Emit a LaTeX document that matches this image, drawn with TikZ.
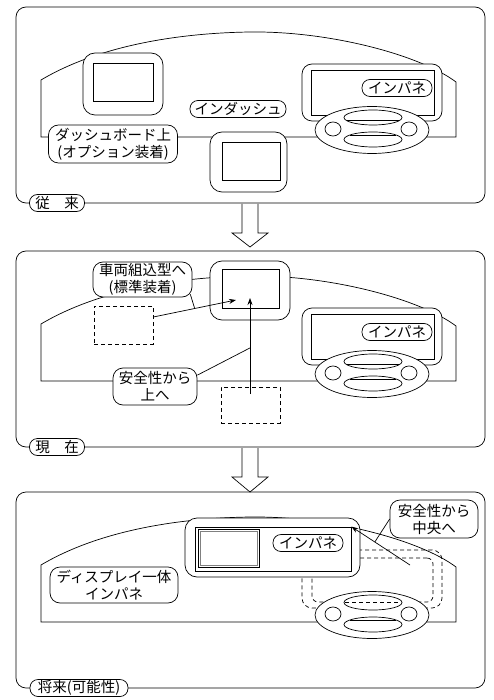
\documentclass[tikz,border=0pt]{standalone}
\usepackage{fontspec}
\setmainfont{Noto Sans CJK JP}
\usetikzlibrary{arrows.meta,calc,shapes.geometric}

\begin{document}
\begin{tikzpicture}[x=1pt,y=-1pt,line width=0.7pt,
        every node/.style={inner sep=0pt,font=\fontsize{14.5}{17}\selectfont},
        tag/.style={draw,fill=white,rounded corners=8pt,minimum height=17pt},
        note/.style={draw,fill=white,rounded corners=10pt,align=center},
        screen/.style={draw,fill=white,rounded corners=12pt},
        glass/.style={draw,fill=white},
        ghost/.style={draw,dash pattern=on 4pt off 3pt},
        vent/.style={draw,fill=white,ellipse},
        >={Stealth[length=7pt,width=5pt]}]
                \useasboundingbox (0,0) rectangle (493,700);

                \foreach \dy in {0,244,485} {
                    \begin{scope}[shift={(0,\dy)}]
                        \draw[rounded corners=10pt] (16,7) rectangle (485,203);
                        \draw (41,137) -- (41,80) .. controls (100,45) and (180,33) .. (250,32)
                            .. controls (330,31) and (420,55) .. (456,82) -- (456,137) -- cycle;
                    \end{scope}
                }

                \draw (242,204) -- (242,233) -- (232,233) -- (250,247) -- (268,233) -- (258,233) -- (258,204);
                \draw (242,448) -- (242,477) -- (232,477) -- (250,492) -- (268,477) -- (258,477) -- (258,448);

                \node[tag,minimum width=55pt] (past) at (57,203) {従　来};
                \node[screen,minimum width=80pt,minimum height=62pt] (dash) at (123,84) {};
                \node[glass,minimum width=60pt,minimum height=38pt] (dashin) at (123,82) {};
                \node[tag,minimum width=96pt] (indash) at (238,109) {インダッシュ};
                \node[note,minimum width=129pt,minimum height=38pt] (dashlabel) at (113,144) {ダッシュボード上\\(オプション装着)};
                \node[screen,minimum width=77pt,minimum height=60pt] (inpanel) at (248.5,162) {};
                \node[glass,minimum width=58pt,minimum height=38pt] (inpanelin) at (251,161) {};

                \node[ghost,rounded corners=10pt,minimum width=140pt,minimum height=58pt] (oldmeter) at (372,579) {};
                \node[ghost,rounded corners=6pt,minimum width=121pt,minimum height=44pt] (oldmeterin) at (372.5,580) {};

                \foreach \dy in {0,244} {
                    \node[screen,rounded corners=10pt,minimum width=140pt,minimum height=57pt] (meter\dy) at (372,92.5+\dy) {};
                    \node[glass,minimum width=123pt,minimum height=45pt] (meterin\dy) at (372.5,92.5+\dy) {};
                    \node[tag,minimum width=70pt] (ipn\dy) at (397,88+\dy) {インパネ};
                }

                \foreach \dy in {0,244,485} {
                    \node[vent,minimum width=114pt,minimum height=47pt] (oval\dy) at (372,130+\dy) {};
                    \node[vent,minimum width=58pt,minimum height=15pt] (slota\dy) at (373,117.5+\dy) {};
                    \node[vent,minimum width=58pt,minimum height=15pt] (slotb\dy) at (373,139.5+\dy) {};
                    \node[vent,minimum width=16pt,minimum height=14pt] (knobl\dy) at (333,129+\dy) {};
                    \node[vent,minimum width=16pt,minimum height=14pt] (knobr\dy) at (409,129+\dy) {};
                    \draw (350,135+\dy) -- (396,135+\dy);
                }
                \draw (347,120) -- (399,120);
                \draw (347,364) -- (399,364);
                \draw[ghost] (345,602) -- (401,602);

                \node[tag,minimum width=55pt] (now) at (57,447) {現　在};
                \node[screen,minimum width=80pt,minimum height=59pt] (fit) at (250,290.5) {};
                \node[glass,minimum width=57pt,minimum height=39pt] (fitin) at (250.5,288.5) {};
                \node[ghost,minimum width=59pt,minimum height=38pt] (oldtop) at (123.5,325) {};
                \node[ghost,minimum width=59pt,minimum height=36pt] (oldlow) at (250.5,405) {};
                \coordinate (side) at (236,300);
                \coordinate (up0) at (250,394);
                \coordinate (up1) at (250,298);
                \draw[->] (oldtop.15) -- (side);
                \draw[->] (up0) -- (up1);
                \node[note,minimum width=99pt,minimum height=35pt] (fitlabel) at (142.5,279.5) {車両組込型へ\\(標準装着)};
                \node[note,minimum width=84pt,minimum height=37pt] (safeup) at (155,386.5) {安全性から\\上へ};
                \draw ($(fitlabel.south east)+(-2,-3)$) -- ($(oldtop.15)!0.5!(side)$);
                \draw (safeup.15) -- ($(up0)!0.48!(up1)$);

                \node[tag,minimum width=98pt] (future) at (79,688) {将来(可能性)};
                \node[screen,minimum width=175pt,minimum height=59pt] (combo) at (272.5,547.5) {};
                \node[glass,minimum width=156pt,minimum height=44pt] (comboin) at (273,549) {};
                \node[glass,minimum width=61pt,minimum height=38pt] (disp) at (228.5,548) {};
                \node[draw=gray,minimum width=57pt,minimum height=34pt] (dispin) at (228.5,548) {};
                \node[tag,minimum width=70pt] (ipn) at (308,543) {インパネ};
                \node[note,minimum width=128pt,minimum height=36pt] (combolabel) at (114,585) {ディスプレイ一体\\インパネ};
                \node[note,minimum width=88pt,minimum height=38pt] (safemid) at (434,519) {安全性から\\中央へ};
                \coordinate (mid0) at (410,565);
                \draw[->] (mid0) -- (comboin.north east);
                \draw (safemid.west) -- ($(mid0)!0.6!(comboin.north east)$);
\end{tikzpicture}
\end{document}
